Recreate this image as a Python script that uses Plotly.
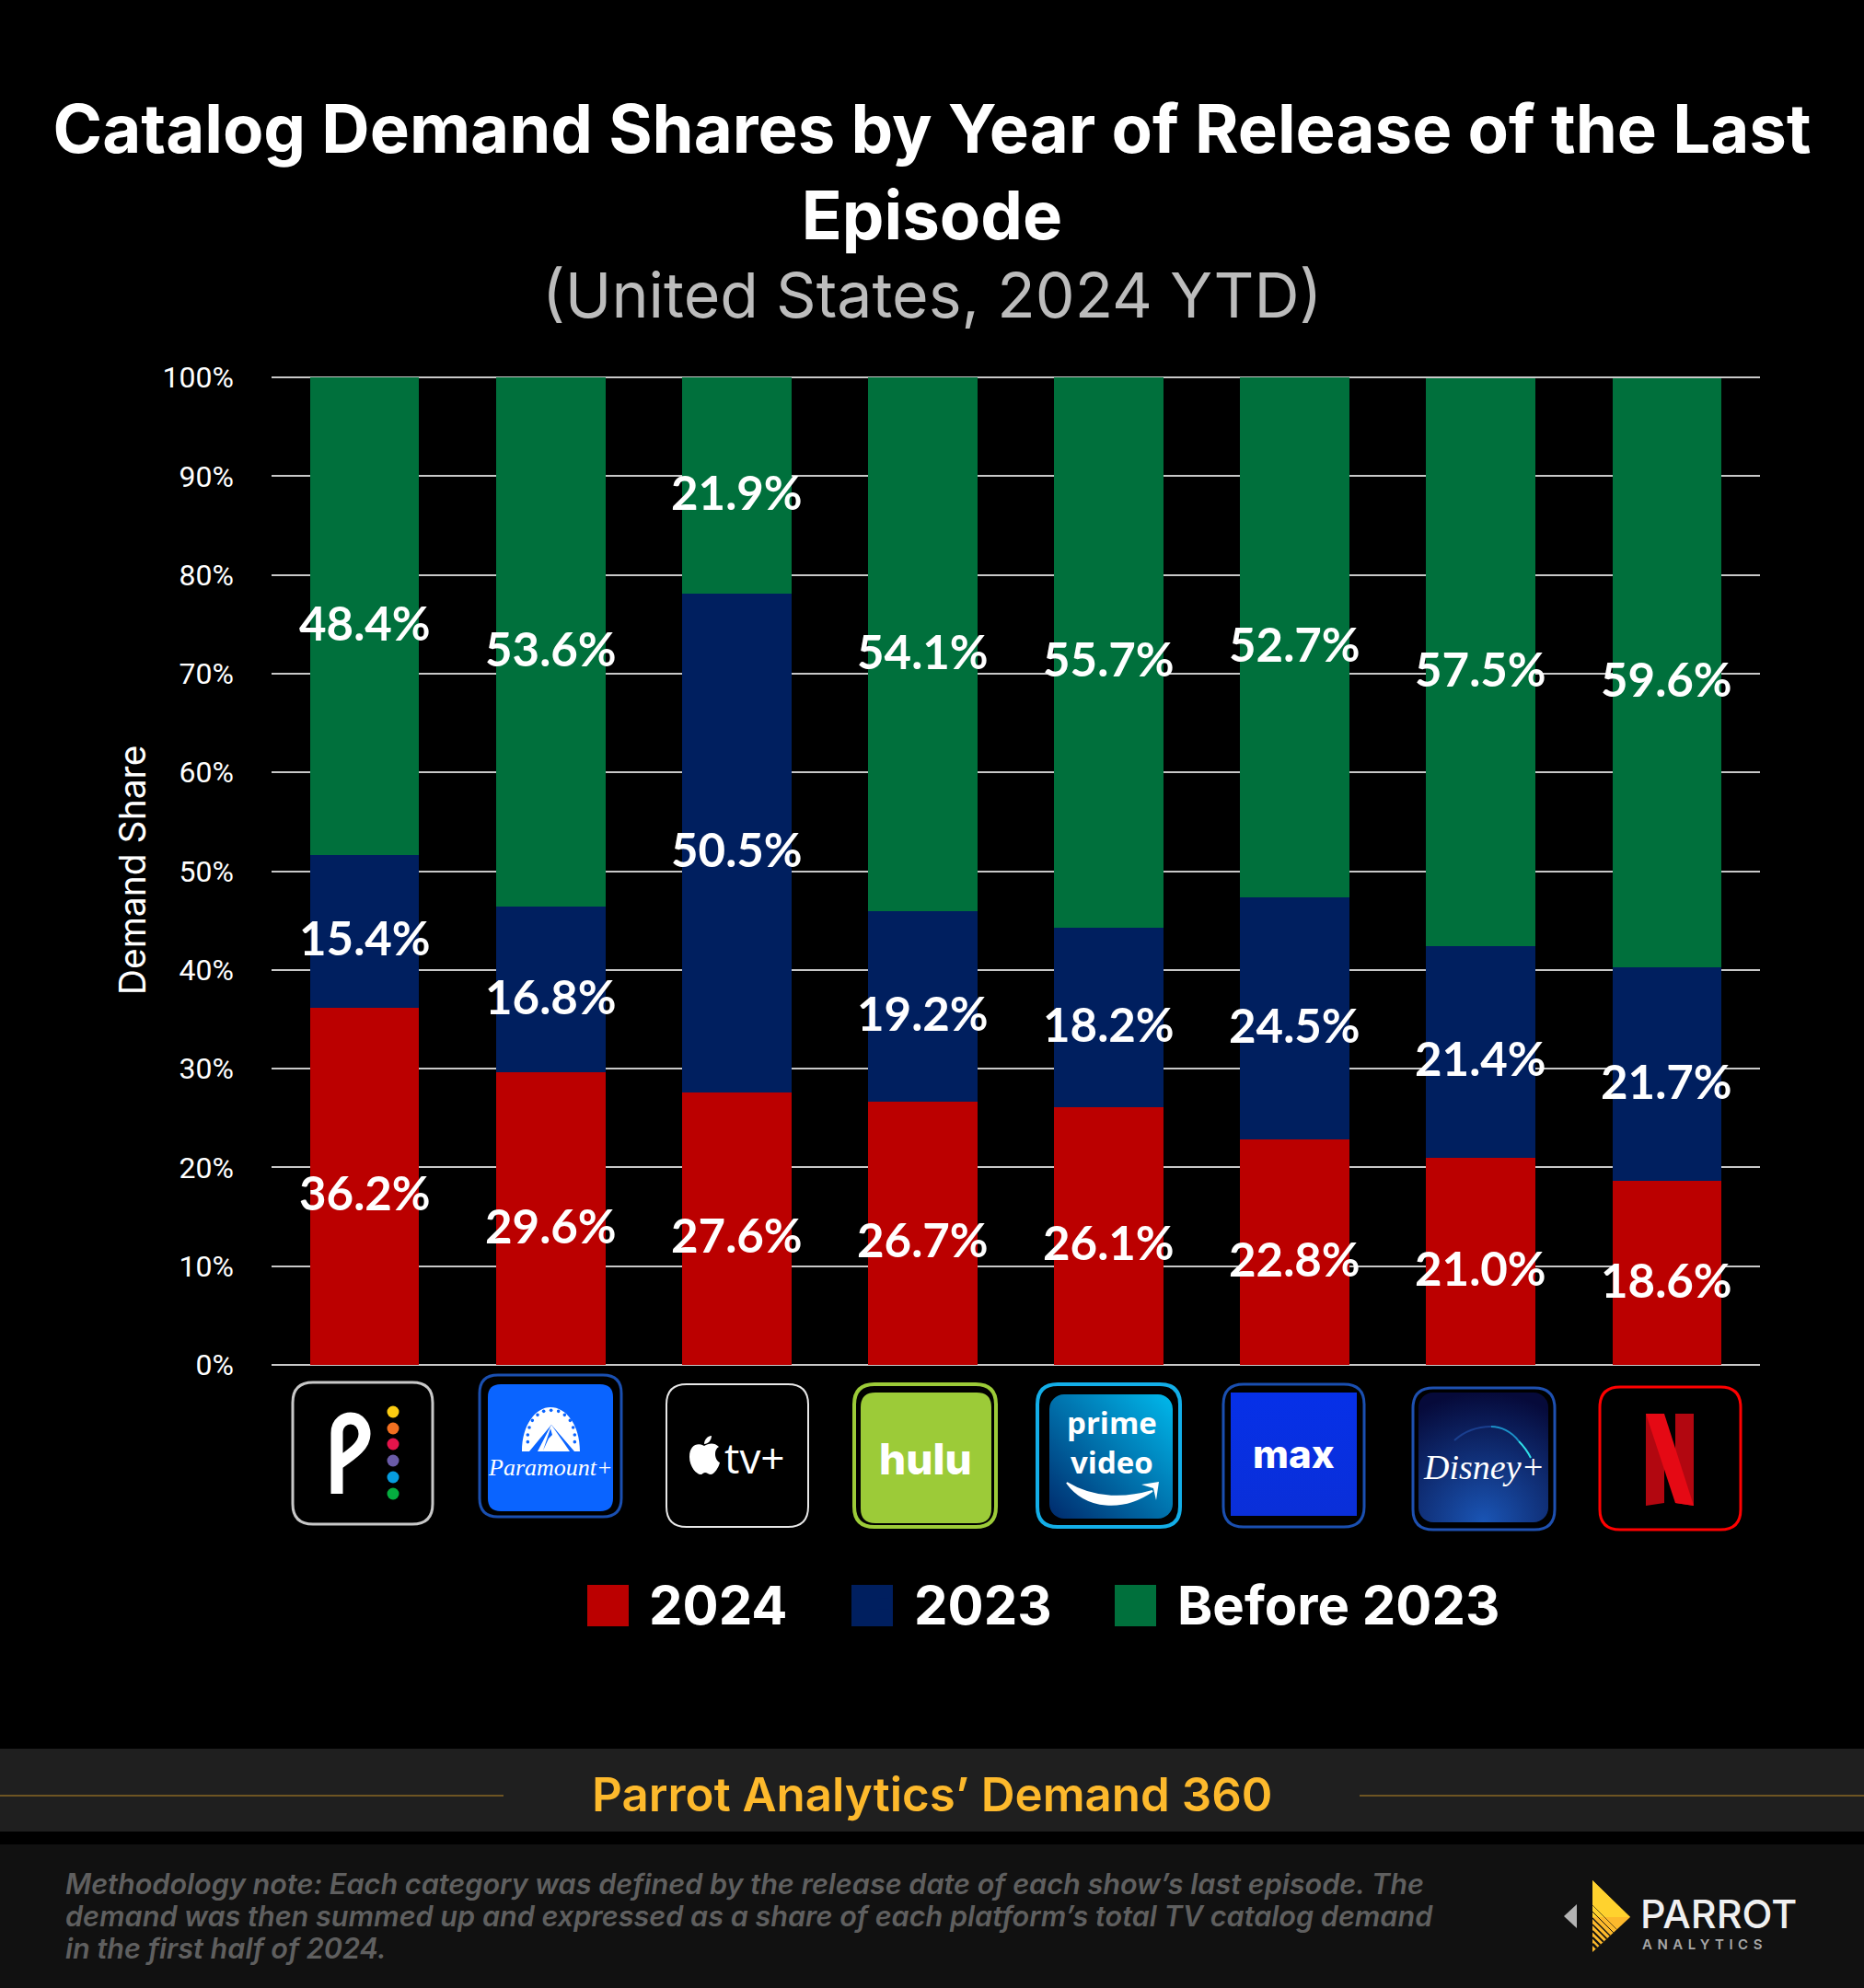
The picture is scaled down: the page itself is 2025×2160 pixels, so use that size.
import base64
import plotly.graph_objects as go

W, H = 2025, 2160

platforms = ["Peacock", "Paramount+", "Apple TV+", "Hulu", "Prime Video", "Max", "Disney+", "Netflix"]
share_2024 = [36.2, 29.6, 27.6, 26.7, 26.1, 22.8, 21.0, 18.6]
share_2023 = [15.4, 16.8, 50.5, 19.2, 18.2, 24.5, 21.4, 21.7]
share_before = [48.4, 53.6, 21.9, 54.1, 55.7, 52.7, 57.5, 59.6]
series_names = ["2024", "2023", "Before 2023"]
series_colors = ["#bb0000", "#001f5f", "#00703c"]


def px(x):
    return x / W


def py(y):
    return 1 - y / H


def path(d):
    out, is_x = [], True
    for tok in d.replace(",", " ").split():
        if tok.isalpha():
            out.append(tok)
            is_x = True
        else:
            v = float(tok)
            out.append(f"{px(v):.6f}" if is_x else f"{py(v):.6f}")
            is_x = not is_x
    return " ".join(out)


def rr(x0, y0, x1, y1, r):
    return (f"M {x0+r} {y0} L {x1-r} {y0} Q {x1} {y0} {x1} {y0+r} L {x1} {y1-r} Q {x1} {y1} {x1-r} {y1} "
            f"L {x0+r} {y1} Q {x0} {y1} {x0} {y1-r} L {x0} {y0+r} Q {x0} {y0} {x0+r} {y0} Z")


shapes, images, notes = [], [], []


def shp(d, fill=None, line=None, lw=0):
    s = dict(type="path", xref="paper", yref="paper", path=path(d), layer="above", line=dict(width=lw))
    if fill:
        s["fillcolor"] = fill
    if line:
        s["line"]["color"] = line
    shapes.append(s)


def rect(x0, y0, x1, y1, fill, line=None, lw=0):
    shp(f"M {x0} {y0} L {x1} {y0} L {x1} {y1} L {x0} {y1} Z", fill, line, lw)


def dot(x, y, r, color):
    shapes.append(dict(type="circle", xref="paper", yref="paper", x0=px(x - r), x1=px(x + r), y0=py(y + r),
                       y1=py(y - r), fillcolor=color, line=dict(width=0), layer="above"))


def txt(x, y, s, size, color="#ffffff", family="Inter", weight=400, anchor="center", style="normal"):
    notes.append(dict(xref="paper", yref="paper", x=px(x), y=py(y), text=s, showarrow=False, xanchor=anchor,
                      yanchor="middle", align="left" if anchor == "left" else "center",
                      font=dict(size=size, color=color, family=family, weight=weight, style=style)))


def grad(x0, y0, x1, y1, r, c0, c1, vec=None):
    if vec:
        g = (f'<linearGradient id="g" x1="{vec[0]}" y1="{vec[1]}" x2="{vec[2]}" y2="{vec[3]}">'
             f'<stop offset="0" stop-color="{c0}"/><stop offset="1" stop-color="{c1}"/></linearGradient>')
    else:
        g = (f'<radialGradient id="g" cx="0.5" cy="1" r="1">'
             f'<stop offset="0" stop-color="{c0}"/><stop offset="1" stop-color="{c1}"/></radialGradient>')
    svg = (f'<svg xmlns="http://www.w3.org/2000/svg" width="{x1-x0}" height="{y1-y0}"><defs>{g}</defs>'
           f'<rect width="{x1-x0}" height="{y1-y0}" rx="{r}" fill="url(#g)"/></svg>')
    src = "data:image/svg+xml;base64," + base64.b64encode(svg.encode()).decode()
    images.append(dict(source=src, xref="paper", yref="paper", x=px(x0), y=py(y0), sizex=(x1 - x0) / W,
                       sizey=(y1 - y0) / H, xanchor="left", yanchor="top", sizing="stretch", layer="above"))


# footer bands
rect(0, 1900, W, 1990, "#1f1f1f")
rect(0, 2004, W, H, "#111111")
rect(0, 1950, 547, 1952, "#6d5422")
rect(1477, 1950, W, 1952, "#6d5422")
txt(1012, 1949, "Parrot Analytics’ Demand 360", 51, "#fdb92c", "Inter", 600)
note_lines = ["Methodology note: Each category was defined by the release date of each show’s last episode. The",
              "demand was then summed up and expressed as a share of each platform’s total TV catalog demand",
              "in the first half of 2024."]
for y, line in zip([2046, 2081, 2116], note_lines):
    txt(69, y, line, 30.6, "#5f5f5f", "Inter", 600, "left", "italic")

# footer logo
shp("M 1699 2082 L 1713 2069 L 1713 2095 Z", "#b4b4b4")
shp("M 1730 2043 L 1771 2083 L 1730 2121 Z", "#fdb92c")
shp("M 1730 2043 L 1771 2083 L 1730 2083 Z", "#ffd22e")
for i, y in enumerate([2070, 2077, 2084, 2091, 2098, 2105, 2112]):
    xe = 1730 + (2083 + 41 * 38 / 41 - y) / (1 + 38 / 41)
    shp(f"M 1730 {y} L {xe:.1f} {y + (xe - 1730):.1f}", None, "#111111", 0.6 + i * 0.35)
txt(1780, 2079, "PARROT", 43, "#f0f0f0", "Inter", 500, "left")
txt(1782, 2112, '<span style="letter-spacing:5.5px">ANALYTICS</span>', 15, "#a8a8a8", "Inter", 600, "left")

# platform logos
shp(rr(318, 1502, 470, 1656, 22), None, "#c8c8c8", 3)
shp("M 366 1623 L 366 1557 C 366 1545 375 1541 381 1541 C 390 1541 396 1549 396 1558 C 396 1570 385 1578 368 1590",
    None, "#ffffff", 13)
for y, c in zip([1534, 1552, 1569, 1587, 1605, 1623], ["#fccc12", "#f37021", "#e4144b", "#6a5ba8", "#069de0", "#05ac3f"]):
    dot(427, y, 6.5, c)

shp(rr(521, 1494, 675, 1648, 20), None, "#1a4fb0", 3)
shp(rr(530, 1504, 666, 1642, 14), "#0a64ff")
shp("M 567 1577 C 567 1548 582 1529 598 1529 C 615 1529 630 1548 630 1577 L 624 1577 L 599 1548 L 575 1577 Z", "#ffffff")
shp("M 584 1577 L 599 1548 L 619 1577 Z", "#ffffff")
shp("M 598 1552 L 590 1576 L 596 1563 L 600 1559 Z", "#0a64ff")
for zx, zy in [(190, 207), (195, 183), (205, 160), (222, 142), (242, 130), (266, 127), (290, 130), (310, 142),
               (328, 160), (338, 183), (343, 207), (190, 230), (343, 230)]:
    dot(510 + zx / 3, 1490 + zy / 3, 1.8, "#0a64ff")
txt(598, 1594, "Paramount+", 26, "#ffffff", "Liberation Serif", 400, style="italic")

shp(rr(724, 1504, 878, 1659, 22), None, "#e8e8e8", 2)
shp("M 765 1571 C 758 1567 749 1570 749 1583 C 749 1594 757 1602 761 1602 C 763 1602 764 1600 766 1600 "
    "C 768 1600 770 1602 772 1602 C 776 1602 781 1594 782 1589 C 776 1586 775 1575 781 1572 C 776 1567 770 1568 765 1571 Z",
    "#ffffff")
shp("M 765 1569 C 765 1564 769 1560 773 1560 C 773 1565 769 1569 765 1569 Z", "#ffffff")
txt(820, 1583, "tv+", 46, "#ffffff", "Open Sans", 500)

shp(rr(928, 1504, 1082, 1659, 22), None, "#9ccb38", 4)
shp(rr(935, 1513, 1077, 1655, 16), "#9ccb38")
txt(1005, 1585, "hulu", 46, "#ffffff", "Inter", 800)

shp(rr(1127, 1504, 1282, 1659, 22), None, "#13aee8", 4)
grad(1140, 1515, 1274, 1650, 16, "#00b9ec", "#002a6c", (1, 0, 0, 1))
txt(1208, 1567, "prime<br>video", 33, "#ffffff", "Open Sans", 700)
shp("M 1159 1611 C 1180 1640 1220 1642 1252 1620 C 1225 1628 1190 1630 1159 1611 Z", "#ffffff", "#ffffff", 2)
shp("M 1240 1613 L 1259 1610 L 1256 1630 L 1253 1617 Z", "#ffffff")

shp(rr(1329, 1504, 1482, 1659, 22), None, "#1a4fb0", 3)
grad(1337, 1513, 1474, 1647, 0, "#0630e8", "#0a2fd8", (0, 0, 0, 1))
txt(1405, 1579, "max", 42, "#ffffff", "Inter", 800)

shp(rr(1535, 1508, 1689, 1662, 22), None, "#1e50b0", 3)
grad(1541, 1513, 1682, 1654, 16, "#1a55b5", "#060a3a")
shp("M 1580 1565 C 1590 1556 1604 1550 1620 1550", None, "#1a3f8f", 2)
shp("M 1620 1550 C 1630 1550 1642 1555 1650 1566", None, "#1c90c8", 2)
shp("M 1650 1566 C 1656 1572 1660 1578 1663 1584", None, "#2fe0e8", 2)
txt(1612, 1594, "Disney+", 38, "#ffffff", "Liberation Serif", 400, style="italic")

shp(rr(1738, 1507, 1891, 1662, 22), None, "#ff0000", 3)
shp("M 1788 1536 L 1808 1536 L 1808 1633 L 1788 1636 Z", "#b20710")
shp("M 1820 1536 L 1840 1536 L 1840 1636 L 1820 1633 Z", "#b20710")
shp("M 1788 1536 L 1808 1536 L 1840 1636 L 1820 1633 Z", "#e50914")

# legend swatches (the real legends draw their labels on top)
for x0, c in zip([638, 925, 1211], series_colors):
    rect(x0, 1722, x0 + 45, 1767, c)

fig = go.Figure()
legend_ids = ["legend", "legend2", "legend3"]
for name, vals, col, lg_id in zip(series_names, [share_2024, share_2023, share_before], series_colors, legend_ids):
    fig.add_bar(name=name, x=platforms, y=vals, marker=dict(color=col, line=dict(width=0)), legend=lg_id, showlegend=True)

# value labels at segment centres
for a, b, c, p in zip(share_2024, share_2023, share_before, platforms):
    for val, mid in ((a, a / 2), (b, a + b / 2), (c, a + b + c / 2)):
        notes.append(dict(x=p, y=mid, xref="x", yref="y", text=f"{val:.1f}%", showarrow=False, yshift=-7,
                          font=dict(size=51, color="#ffffff", family="Lato", weight=700)))

txt(1012, 320, "(United States, 2024 YTD)", 68, "#bcbcbc", "Inter", 400)


def lg(x):
    return dict(orientation="h", xref="paper", yref="paper", x=px(x), xanchor="left", y=py(1743), yanchor="middle",
                font=dict(family="Inter", size=58, weight=700, color="#ffffff"), bgcolor="rgba(0,0,0,0)",
                itemwidth=56, itemclick=False, itemdoubleclick=False)


fig.update_layout(
    width=W, height=H, autosize=False, margin=dict(l=0, r=0, t=0, b=0, pad=0, autoexpand=False),
    paper_bgcolor="#000000", plot_bgcolor="#000000", barmode="stack", bargap=0.413,
    title=dict(text='Catalog Demand Shares by Year of Release of the Last<br>Episode',
               x=0.5, xanchor="center", y=py(166), yanchor="top", font=dict(family="Inter", size=72.5, weight=700, color="#ffffff")),
    xaxis=dict(domain=[px(295), px(1912)], showticklabels=False, showgrid=False, zeroline=False, ticks="", categoryorder="array", categoryarray=platforms),
    yaxis=dict(domain=[py(1483), py(407.85)], range=[0, 100.2], tick0=0, dtick=10, ticksuffix="%",
               gridcolor="#c8c8c8", gridwidth=2, zeroline=True, zerolinecolor="#c8c8c8", zerolinewidth=2,
               ticklabelstandoff=40, tickfont=dict(family="Roboto", size=32, color="#ffffff"),
               title=dict(text="Demand Share", standoff=5, font=dict(family="Inter", size=39, color="#ffffff"))),
    legend=lg(639), legend2=lg(927), legend3=lg(1213),
    shapes=shapes, images=images, annotations=notes,
)
fig.write_html("out.html", config={"displayModeBar": False},
               post_script="document.body.style.margin='0';document.body.style.background='#000';")
